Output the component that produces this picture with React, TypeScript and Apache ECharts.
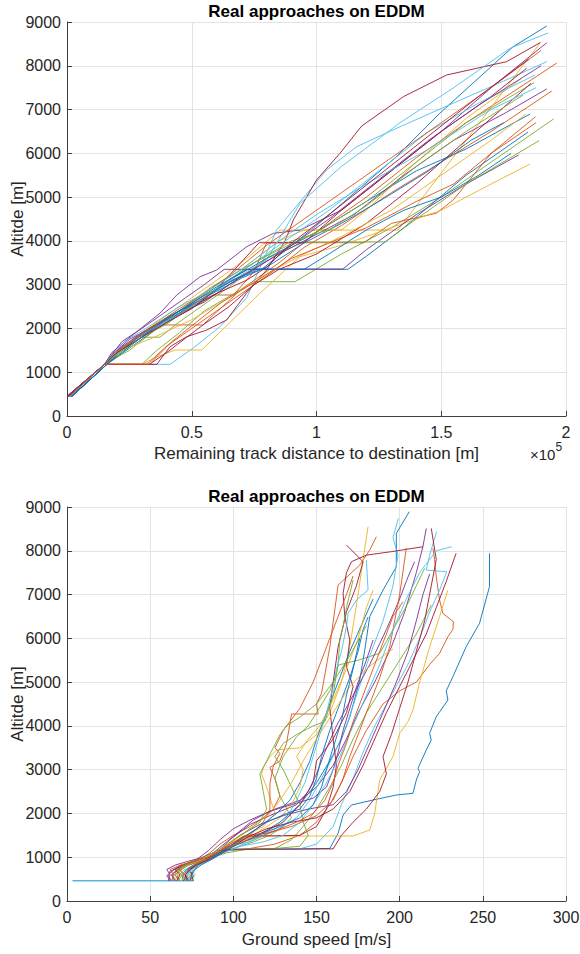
import React, { useEffect, useRef } from "react";
import * as echarts from "echarts";

const TITLE = "Real approaches on EDDM";
const COLORS = ["#0072BD", "#D95319", "#EDB120", "#7E2F8E", "#77AC30", "#4DBEEE", "#A2142F"];
const distanceTicks = [0, 0.5, 1, 1.5, 2];
const speedTicks = [0, 50, 100, 150, 200, 250, 300];
const altitudeTicks = [0, 1000, 2000, 3000, 4000, 5000, 6000, 7000, 8000, 9000];

// Remaining track distance [x 1e5 m] vs altitude [m]
const distanceTracks: number[][][] = [
  [[0.01,450],[0.02,450],[0.16,1180],[0.2,1420],[0.3,1900],[0.4,2250],[0.5,2550],[0.6,2850],[0.7,3150],[0.78,3350],[1.0,4350],[1.32,5922],[1.495,6920],[1.788,8435],[1.923,8909]],
  [[0.008,460],[0.15,1180],[0.19,1450],[0.3,1850],[0.36,2080],[0.545,2080],[0.585,2300],[0.7,2900],[0.85,3500],[1.0,4200],[1.2,5000],[1.4,5900],[1.6,6700],[1.8,7450],[1.963,8063]],
  [[0.01,450],[0.15,1180],[0.23,1600],[0.35,2100],[0.5,2700],[0.6,3100],[0.66,3350],[0.72,3600],[0.854,4248],[1.327,4248],[1.4,4800],[1.6,6300],[1.9,8550]],
  [[0.0,450],[0.15,1180],[0.18,1450],[0.252,1800],[0.373,2350],[0.44,2764],[0.533,3180],[0.6,3335],[0.72,3867],[0.827,4172],[0.934,4248],[1.1,4700],[1.3,5600],[1.5,6500],[1.7,7500],[1.923,8527]],
  [[0.01,450],[0.15,1180],[0.3,1180],[0.36,1500],[0.45,1900],[0.55,2400],[0.7,2900],[0.76,3068],[0.914,3068],[1.1,3700],[1.3,4300],[1.5,5000],[1.7,5800],[1.95,6784]],
  [[0.005,450],[0.15,1180],[0.3,1180],[0.413,1180],[0.506,1553],[0.613,2040],[0.72,2700],[0.84,4248],[1.04,5619],[1.161,6151],[1.335,6608],[1.55,7150],[1.75,7650],[1.923,8094]],
  [[0.005,450],[0.15,1180],[0.36,1180],[0.413,1583],[0.48,1811],[0.56,1964],[0.64,2193],[0.72,2809],[0.8,3335],[0.874,4000],[0.907,4477],[1.0,5390],[1.094,6000],[1.181,6624],[1.35,7300],[1.522,7790],[1.762,8094],[1.896,8527]],
  [[0.02,450],[0.16,1180],[0.22,1500],[0.3,1800],[0.38,2100],[0.5,2500],[0.6,2800],[0.7,3200],[0.76,3350],[1.126,3350],[1.2,3650],[1.35,4300],[1.48,4930],[1.6,5500],[1.848,6487]],
  [[0.01,450],[0.15,1180],[0.21,1500],[0.35,2050],[0.45,2400],[0.585,2764],[0.667,2764],[0.75,3300],[0.8,3958],[1.19,3958],[1.3,4400],[1.48,4630],[1.548,4934],[1.7,6000],[1.878,6837]],
  [[0.01,450],[0.15,1180],[0.3,1180],[0.36,1350],[0.433,1507],[0.54,1507],[0.774,2809],[0.934,3640],[1.1,3900],[1.3,4300],[1.5,4700],[1.7,5300],[1.856,5756]],
  [[0.005,450],[0.15,1180],[0.19,1450],[0.25,1750],[0.35,2050],[0.45,2350],[0.55,2600],[0.65,3000],[0.75,3358],[1.106,3358],[1.2,3800],[1.4,4600],[1.6,5300],[1.81,5962]],
  [[0.01,450],[0.15,1180],[0.22,1500],[0.3,1800],[0.373,1800],[0.45,2150],[0.55,2550],[0.65,2950],[0.8,3600],[0.95,3975],[1.275,3975],[1.4,4500],[1.6,5300],[1.892,6289]],
  [[0.005,450],[0.15,1180],[0.2,1450],[0.3,1850],[0.42,2250],[0.55,2700],[0.65,3050],[0.72,3300],[0.8,3563],[0.934,4858],[1.1,5700],[1.335,6700],[1.55,7500],[1.776,8400],[1.928,8749]],
  [[0.0,450],[0.15,1180],[0.2,1450],[0.27,1750],[0.37,2050],[0.5,2450],[0.6,2900],[0.77,3958],[0.95,3958],[1.1,4700],[1.3,5600],[1.5,6500],[1.7,7300],[1.842,7942]],
  [[0.015,450],[0.16,1180],[0.25,1550],[0.35,1950],[0.45,2350],[0.55,2700],[0.65,3100],[0.8,3600],[1.0,4200],[1.2,4900],[1.4,5600],[1.6,6100],[1.856,6898]],
  [[0.01,450],[0.15,1180],[0.32,1180],[0.4,1600],[0.5,2000],[0.6,2400],[0.7,2800],[0.85,3400],[0.95,3850],[1.1,4350],[1.3,5100],[1.5,5800],[1.7,6500],[1.943,7424]],
  [[0.01,450],[0.15,1180],[0.2,1450],[0.3,1900],[0.45,2400],[0.6,3000],[0.7,3350],[0.85,4000],[0.95,4248],[1.1,4248],[1.2,4700],[1.4,5800],[1.6,6800],[1.82,7700]],
  [[0.005,450],[0.15,1180],[0.2,1500],[0.3,1900],[0.42,2300],[0.55,2750],[0.7,3200],[0.85,3700],[1.0,4150],[1.15,4600],[1.35,5500],[1.55,6300],[1.75,6900],[1.923,7470]],
  [[0.01,450],[0.15,1180],[0.25,1500],[0.35,1950],[0.45,2400],[0.58,2950],[0.7,3350],[0.85,3800],[1.0,4200],[1.2,4900],[1.4,5800],[1.6,6700],[1.872,7613]],
  [[0.01,450],[0.15,1180],[0.2,1450],[0.3,1850],[0.4,2150],[0.5,2500],[0.6,2900],[0.75,3500],[0.9,4100],[1.05,4700],[1.25,5600],[1.45,6500],[1.65,7150],[1.876,7789]],
  [[0.005,450],[0.15,1180],[0.33,1180],[0.4,1450],[0.48,1800],[0.55,2100],[0.65,2500],[0.75,3000],[0.85,3350],[1.0,3700],[1.2,4400],[1.4,5300],[1.6,6300],[1.8,7300],[1.86,7600]],
  [[0.02,450],[0.16,1180],[0.24,1600],[0.33,2000],[0.42,2300],[0.55,2700],[0.66,3100],[0.8,3400],[0.95,3950],[1.1,4400],[1.25,4900],[1.45,5600],[1.62,6300],[1.75,6700]],
  [[0.01,450],[0.15,1180],[0.22,1550],[0.32,1950],[0.45,2450],[0.55,2800],[0.65,3200],[0.8,3900],[0.95,4500],[1.1,5100],[1.3,5900],[1.5,6700],[1.7,7500],[1.9,8350]],
  [[0.01,450],[0.15,1180],[0.22,1500],[0.35,1800],[0.5,2200],[0.65,2700],[0.8,3250],[0.95,3700],[1.1,4100],[1.3,4700],[1.5,5500],[1.7,6300],[1.84,6900]],
  [[0.0,450],[0.15,1180],[0.22,1700],[0.3,2000],[0.4,2400],[0.55,3000],[0.63,3350],[0.75,3350],[0.9,3900],[1.05,4500],[1.25,5400],[1.45,6300],[1.65,7100],[1.9,8000]],
  [[0.01,450],[0.15,1180],[0.2,1400],[0.3,1800],[0.4,2100],[0.52,2600],[0.62,3000],[0.75,3500],[0.9,4000],[1.05,4250],[1.2,4800],[1.4,5700],[1.6,6500],[1.828,7332]],
  [[0.005,450],[0.15,1180],[0.23,1700],[0.33,2050],[0.45,2500],[0.55,2800],[0.7,3350],[0.85,4000],[1.0,4600],[1.2,5300],[1.45,6100],[1.7,7000],[1.88,7500]],
  [[0.005,450],[0.15,1180],[0.2,1450],[0.3,1800],[0.45,2300],[0.6,2800],[0.72,3100],[0.8,3400],[0.9,3950],[1.05,4600],[1.25,5500],[1.45,6400],[1.65,7300],[1.85,8150]],
  [[0.02,450],[0.16,1180],[0.22,1450],[0.32,1900],[0.45,2400],[0.6,2950],[0.72,3350],[0.95,3350],[1.05,3700],[1.2,4250],[1.35,4700],[1.5,5000],[1.65,5500],[1.78,6000]],
  [[0.01,450],[0.15,1180],[0.33,1180],[0.42,1700],[0.52,2150],[0.62,2600],[0.75,3050],[0.9,3600],[1.05,3950],[1.2,4300],[1.4,4900],[1.55,5300],[1.7,6000],[1.88,6700]],
];

// Ground speed [m/s] vs altitude [m]
const speedTracks: number[][][] = [
  [[3.4,462],[40,462],[76,462],[74,560],[76,700],[80,850],[86,1000],[90,1150],[100,1250],[115,1500],[128,1800],[140,2200],[150,2700],[158,3200],[165,3700],[170,4200],[176,5048],[179,5733],[182,6494],[190,7103],[198,7636],[198,8399],[205.8,8893]],
  [[68,460],[66,560],[69,650],[67,750],[72,850],[80,950],[86,1100],[92,1300],[100,1500],[110,1700],[118,1900],[124,2100],[128,2400],[125,2800],[122,3050],[128,3200],[132,3600],[135,4271],[151,4271],[150,4500],[153,4744],[158,5800],[163,7217],[176,7674],[182,8017],[186,8320]],
  [[72,460],[70,560],[73,680],[76,780],[82,900],[88,1050],[95,1250],[105,1450],[118,1700],[125,2000],[120,2600],[117,2900],[118,3050],[122,3300],[126,3449],[140,3500],[150,3800],[158,4300],[165,5000],[170,5800],[175,7000],[178,7800],[181,8550]],
  [[63,460],[61,560],[62,680],[66,760],[72,850],[78,950],[85,1150],[92,1400],[100,1650],[110,1850],[125,2100],[140,2300],[150,2600],[160,3100],[168,3700],[175,4300],[185,5000],[195,5800],[203,6600],[210,7500],[214,8100],[216,8512]],
  [[66,460],[64,560],[66,700],[70,800],[76,880],[84,950],[92,1100],[100,1200],[112,1350],[122,1500],[130,1700],[135,1900],[128,2400],[125,2800],[130,3300],[138,3750],[145,4000],[150,4300],[158,4800],[162,5200],[163.1,5390],[175,5500],[188,5657],[196,6200],[205,6800],[210,7200],[215,7598]],
  [[3.4,465],[40,465],[72,465],[74,580],[72,700],[78,820],[85,950],[90,1100],[96,1250],[110,1350],[125,1600],[138,1900],[146,2300],[153,2800],[160,3300],[168,4000],[175,4800],[182,5600],[190,6400],[196,7200],[199,7900],[196,8300],[199.2,8740]],
  [[70,460],[72,580],[68,700],[72,800],[78,900],[86,1000],[92,1150],[100,1300],[112,1480],[120,1600],[130,1800],[140,2200],[148,2700],[150,3200],[160,3700],[168,4300],[172,4896],[168,5352],[170,5961],[167,6494],[166,7028],[168,7500],[171,7750],[180,7900],[195,7980],[214,8092]],
  [[75,460],[76,580],[74,700],[78,800],[84,920],[90,1050],[95,1180],[130,1185],[158,1200],[163,1546],[166,1964],[171,2193],[184,2307],[198,2421],[208,2460],[210,2764],[212,2954],[211,3030],[216,3449],[219,3678],[218,3830],[222,4210],[229,4591],[228,4800],[232,5124],[240,5810],[248,6343],[254,7180],[254,7942]],
  [[67,460],[65,600],[68,720],[72,820],[80,900],[88,1000],[95,1150],[110,1200],[125,1300],[140,1500],[150,1800],[158,2200],[165,2700],[172,3300],[180,3900],[190,4500],[200,4800],[210,5000],[218,5400],[224,5657],[229,6037],[232,6200],[232.3,6380],[226,6570],[224,6875],[222,7400],[221,7800],[220,8055]],
  [[73,460],[74,580],[72,700],[76,800],[82,920],[88,1050],[98,1250],[108,1450],[120,1480],[154,1485],[172,1485],[182,1621],[185,2003],[188,2764],[196,3300],[200,3830],[205,4100],[208,4362],[212,5000],[218,5800],[224,6500],[229,7103]],
  [[62,460],[60,580],[64,700],[68,800],[74,880],[82,950],[90,1100],[98,1400],[110,1750],[125,2000],[138,2200],[145,2500],[150,2900],[155,3400],[162,4000],[172,4700],[182,5400],[192,6200],[200,6900],[205,7400],[209,7750]],
  [[69,460],[70,600],[68,720],[73,820],[80,900],[88,1000],[96,1150],[110,1180],[125,1200],[135,1400],[142,1700],[150,2100],[158,2600],[165,3100],[172,3700],[180,4300],[190,4900],[200,5500],[210,6100],[219,6761]],
  [[71,460],[73,600],[70,700],[75,800],[82,900],[90,1050],[100,1180],[140,1190],[150,1300],[160,1700],[165,2200],[172,2800],[178,3400],[185,4000],[195,4700],[205,5400],[212,6000],[218,6600],[224,7100],[228.3,7521],[216,7560],[218,7900],[222.2,8436]],
  [[74,460],[75,600],[73,720],[77,820],[84,920],[90,1050],[96,1200],[106,1480],[125,1490],[140,1500],[150,1700],[156,2100],[160,2600],[162,3100],[160,3700],[158,4400],[160,5000],[163,5800],[168,6600],[174,7200],[178,7750],[168,8131]],
  [[72,460],[71,600],[74,720],[79,830],[85,950],[92,1100],[104,1400],[116,1700],[126,2000],[134,2300],[140,2700],[146,3200],[150,3700],[156,4300],[163,5000],[170,5700],[177,6300],[184,6898]],
  [[64,460],[63,600],[66,720],[70,820],[77,900],[85,1000],[92,1150],[100,1300],[110,1500],[118,1800],[122,2100],[122,2688],[124,3078],[128,3372],[125,3500],[130,3900],[140,4400],[148,5000],[155,5700],[162,6400],[168,7000],[172,7424]],
  [[75,460],[77,600],[75,720],[79,830],[86,950],[93,1100],[102,1300],[112,1500],[120,1700],[128,1900],[135,2200],[140,2600],[142,3000],[138,3300],[145,3700],[152,4000],[160,4600],[168,5300],[175,6000],[180,6700],[184,7100]],
  [[65,460],[63,600],[67,720],[72,820],[79,900],[86,1000],[94,1200],[104,1500],[116,1750],[130,1950],[145,2100],[160,2200],[168,2500],[175,3000],[182,3600],[190,4300],[198,5000],[205,5700],[210,6400],[214,7000],[218,7470]],
  [[68,460],[66,600],[68,720],[72,830],[80,920],[88,1000],[96,1100],[108,1180],[125,1200],[140,1250],[145,1500],[142,1800],[140,2200],[135,2600],[130,3000],[125,3300],[130,3600],[138,3800],[148,4000],[155,4100],[160,4700],[163,5428],[164,5961],[166,6266],[168,6700],[172,7332]],
  [[73,460],[72,600],[75,720],[78,820],[85,940],[92,1080],[100,1200],[112,1400],[124,1600],[132,1900],[138,2300],[143,2700],[148,3300],[152,3800],[156,4300],[160,4900],[162,5300],[165,5700],[168,6266],[169,6570],[174,6875],[181,7103],[180,7788]],
  [[66,460],[68,600],[65,720],[70,820],[77,900],[85,1000],[92,1150],[100,1180],[130,1185],[160,1190],[165,1500],[172,1800],[180,2100],[188,2500],[192,2900],[190,3300],[195,3800],[200,4400],[205,5000],[210,5700],[215,6400],[219,7200],[222,7800],[219,8512]],
  [[70,460],[69,600],[72,720],[76,820],[83,920],[89,1050],[96,1200],[108,1500],[120,1800],[132,2000],[140,2100],[146,2400],[150,2800],[153,3300],[158,3900],[164,4500],[170,5100],[175,5700],[178,6200],[181,6487]],
  [[71,460],[70,600],[73,720],[77,830],[84,950],[90,1100],[98,1300],[108,1500],[120,1550],[135,1700],[150,1950],[160,2300],[166,2800],[170,3300],[176,3900],[182,4500],[188,5100],[194,5800],[200,7000],[204,8063]],
  [[69,460],[71,600],[68,720],[73,830],[80,930],[87,1050],[95,1250],[105,1500],[115,1800],[122,2000],[128,2300],[135,2700],[142,3200],[150,3700],[160,4300],[170,4900],[180,5300],[190,5600],[196,5756]],
  [[61,460],[62,600],[60,720],[65,820],[72,900],[80,980],[88,1100],[96,1350],[104,1600],[112,1850],[122,2050],[135,2200],[148,2350],[156,2600],[160,3000],[163,3400],[166,3900],[170,4400],[175,5000],[180,5500],[184,5962]],
  [[67,460],[69,600],[66,720],[71,830],[78,930],[85,1050],[92,1180],[100,1400],[108,1600],[116,1800],[120,2100],[118,2500],[116,2900],[120,3200],[124,3500],[128,3800],[132,4000],[140,4200],[150,4500],[160,5000],[170,5600],[180,6289]],
  [[74,460],[72,600],[75,720],[80,830],[87,950],[94,1100],[104,1250],[118,1350],[130,1500],[140,1800],[148,2200],[156,2700],[164,3300],[172,4000],[180,4700],[188,5400],[196,6200],[204,6900],[212,7500],[222,8000],[231.2,8092]],
  [[73,460],[71,600],[74,720],[78,820],[84,920],[91,1050],[98,1200],[108,1450],[120,1650],[135,1800],[150,1900],[160,2100],[170,2500],[178,3100],[185,3700],[192,4300],[200,4900],[208,5500],[216,6100],[222,6700],[228,7300],[233.9,7940]],
  [[76,460],[75,600],[77,720],[81,830],[87,950],[93,1100],[100,1250],[115,1500],[128,1700],[140,1900],[148,2200],[153,2600],[156,3000],[160,3500],[165,4100],[168,4700],[172,5300],[176,6000]],
  [[63,460],[64,600],[62,720],[68,820],[75,900],[83,990],[90,1100],[98,1250],[110,1400],[125,1600],[138,1800],[148,2000],[155,2300],[160,2700],[163,3100],[168,3600],[172,4100],[178,4700],[184,5300],[190,5900],[196,6500],[202,6837]],
];

const FONT = "Liberation Sans, Arial, Helvetica, sans-serif";
const TXT = "#262626";
const plain = (v: number) => String(v);

function axisCommon(margin: number) {
  return {
    nameMoveOverlap: false,
    axisLine: { show: true, lineStyle: { color: "#404040", width: 1 } },
    axisTick: { show: true, inside: true, length: 5, lineStyle: { color: "#404040" } },
    axisLabel: { color: TXT, fontSize: 16, fontFamily: FONT, margin, formatter: plain },
    splitLine: { show: true, lineStyle: { color: "#e3e3e3", width: 1 } },
    nameTextStyle: { color: TXT, fontSize: 17, fontFamily: FONT },
  };
}

export default function App() {
  const ref = useRef<HTMLDivElement>(null);
  useEffect(() => {
    if (!ref.current) return;
    const chart = echarts.init(ref.current, undefined, { renderer: "svg" });
    const series: any[] = [];
    distanceTracks.forEach((t, i) =>
      series.push({
        type: "line", xAxisIndex: 0, yAxisIndex: 0, data: t, showSymbol: false, silent: true,
        lineStyle: { width: 0.9, color: COLORS[i % 7] }, itemStyle: { color: COLORS[i % 7] },
      })
    );
    speedTracks.forEach((t, i) =>
      series.push({
        type: "line", xAxisIndex: 1, yAxisIndex: 1, data: t, showSymbol: false, silent: true,
        lineStyle: { width: 0.9, color: COLORS[i % 7] }, itemStyle: { color: COLORS[i % 7] },
      })
    );
    chart.setOption({
      animation: false,
      backgroundColor: "#ffffff",
      title: [
        { text: TITLE, left: 316.5, top: 3, padding: 0, textAlign: "center", textStyle: { fontSize: 17, fontWeight: "bold", color: "#000", fontFamily: FONT } },
        { text: TITLE, left: 316.5, top: 488, padding: 0, textAlign: "center", textStyle: { fontSize: 17, fontWeight: "bold", color: "#000", fontFamily: FONT } },
      ],
      grid: [
        { left: 67, top: 22, width: 499, height: 394, containLabel: false, outerBoundsMode: "none" },
        { left: 67, top: 507, width: 499, height: 394, containLabel: false, outerBoundsMode: "none" },
      ],
      xAxis: [
        { type: "value", gridIndex: 0, min: distanceTicks[0], max: distanceTicks[distanceTicks.length - 1], interval: 0.5,
          name: "Remaining track distance to destination [m]", nameLocation: "middle", nameGap: 29, ...axisCommon(8) },
        { type: "value", gridIndex: 1, min: speedTicks[0], max: speedTicks[speedTicks.length - 1], interval: 50,
          name: "Ground speed [m/s]", nameLocation: "middle", nameGap: 30, ...axisCommon(8) },
      ],
      yAxis: [
        { type: "value", gridIndex: 0, min: altitudeTicks[0], max: altitudeTicks[altitudeTicks.length - 1], interval: 1000,
          name: "Altitde [m]", nameLocation: "middle", nameGap: 41, ...axisCommon(6) },
        { type: "value", gridIndex: 1, min: altitudeTicks[0], max: altitudeTicks[altitudeTicks.length - 1], interval: 1000,
          name: "Altitde [m]", nameLocation: "middle", nameGap: 41, ...axisCommon(6) },
      ],
      graphic: [
        {
          type: "text", left: 530, top: 441,
          style: {
            text: "{a|×10}{b|5}",
            rich: {
              a: { fontSize: 15, fontFamily: FONT, fill: TXT, padding: [8, 0, 0, 0] },
              b: { fontSize: 12, fontFamily: FONT, fill: TXT, padding: [0, 0, 6, 0] },
            },
          },
        },
      ],
      series,
    });
    return () => chart.dispose();
  }, []);
  return <div ref={ref} style={{ position: "fixed", left: 0, top: 0, width: 580, height: 954 }} />;
}
